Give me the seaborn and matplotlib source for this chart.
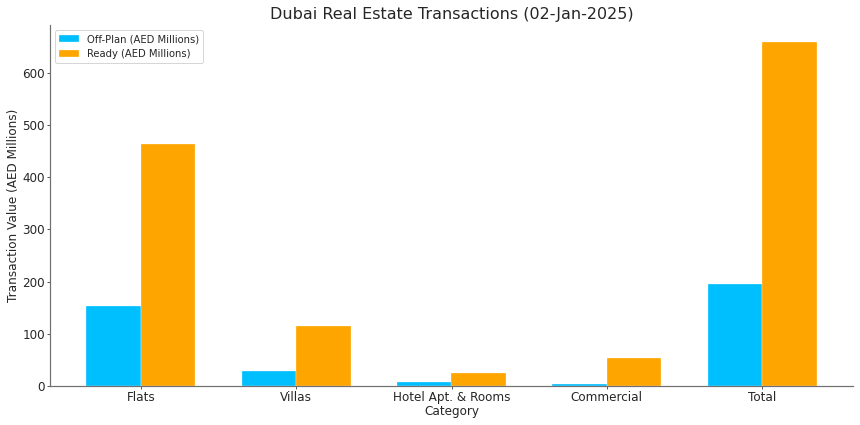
import pandas as pd
import seaborn as sns
import matplotlib.pyplot as plt

# --- Data ---
categories = ["Flats", "Villas", "Hotel Apt. & Rooms", "Commercial", "Total"]
off_plan = [152.6, 29.5, 8.0, 4.5, 195.0]
ready = [464.0, 115.8, 24.0, 54.3, 659.0]
series_names = ["Off-Plan (AED Millions)", "Ready (AED Millions)"]

df = pd.DataFrame({
    "Category": categories * 2,
    "Value": off_plan + ready,
    "Type": [series_names[0]] * len(categories) + [series_names[1]] * len(categories),
})

sns.set_style("ticks")
plt.rcParams["font.family"] = ["DejaVu Sans"]
text_color = "#262626"
spine_color = "#707070"

fig, ax = plt.subplots(figsize=(860 / 72, 425 / 72), dpi=72)
fig.subplots_adjust(left=50 / 860, right=853 / 860, bottom=1 - 386 / 425, top=1 - 25 / 425)

sns.barplot(data=df, x="Category", y="Value", hue="Type",
            palette=["#00BFFF", "#FFA500"], width=0.7, saturation=1,
            edgecolor="#FFFFFF", linewidth=0.3, ax=ax)

ax.set_xlim(-0.585, 4.585)
ax.set_title("Dubai Real Estate Transactions (02-Jan-2025)", fontsize=16, color=text_color)
ax.set_xlabel("Category", fontsize=12, color=text_color, labelpad=1)
ax.set_ylabel("Transaction Value (AED Millions)", fontsize=12, color=text_color, labelpad=2)
ax.tick_params(axis="both", labelsize=12, labelcolor=text_color, color="#333333",
               length=3, width=0.8, pad=2)

sns.despine(ax=ax)
for side in ["left", "bottom"]:
    ax.spines[side].set_color(spine_color)
    ax.spines[side].set_linewidth(1.2)

leg = ax.legend(loc="upper left", fontsize=10, frameon=True, title=None)
for t in leg.get_texts():
    t.set_color(text_color)

plt.savefig("out.png", dpi=72)
